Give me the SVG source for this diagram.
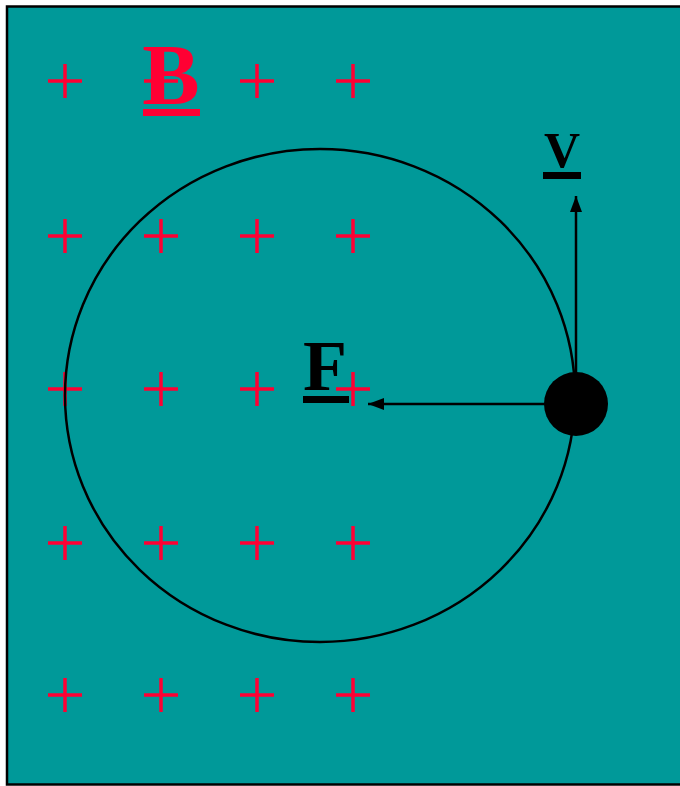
<svg xmlns="http://www.w3.org/2000/svg" width="680" height="786" viewBox="0 0 680 786">
<defs>
<style>
.pl{stroke:#FF0033;stroke-width:3.5;fill:none}
.lbl{font-family:"Liberation Serif","Times New Roman",serif;font-weight:bold}
.ln{stroke:#000;stroke-width:2.5;fill:none}
</style>
<marker id="ah2" markerWidth="16" markerHeight="12" refX="16" refY="6" orient="auto" markerUnits="userSpaceOnUse" viewBox="0 0 16 12">
<path d="M0,0 L16,6 L0,12 z" fill="#000"/>
</marker>
<path id="p" d="M-17,0 H17 M0,-17 V17"/>
</defs>
<rect x="7" y="6.5" width="680" height="778" fill="#009999" stroke="#000" stroke-width="2.5"/>
<g id="field">
<g class="pl">
<use href="#p" x="65" y="81"/><use href="#p" x="257" y="81"/><use href="#p" x="353" y="81"/><use href="#p" x="161" y="81"/>
<use href="#p" x="65" y="236"/><use href="#p" x="161" y="236"/><use href="#p" x="257" y="236"/><use href="#p" x="353" y="236"/>
<use href="#p" x="65" y="389"/><use href="#p" x="161" y="389"/><use href="#p" x="257" y="389"/><use href="#p" x="353" y="389"/>
<use href="#p" x="65" y="543"/><use href="#p" x="161" y="543"/><use href="#p" x="257" y="543"/><use href="#p" x="353" y="543"/>
<use href="#p" x="65" y="695"/><use href="#p" x="161" y="695"/><use href="#p" x="257" y="695"/><use href="#p" x="353" y="695"/>
</g>
</g>
<g id="label-B">
<text class="lbl" x="171" y="104" font-size="86" fill="#FF0033" text-anchor="middle">B</text>
<rect x="143" y="109" width="57" height="7" fill="#FF0033"/>
</g>
<g id="orbit">
<ellipse cx="320" cy="395.5" rx="255" ry="246.5" class="ln"/>
</g>
<g id="connectors">
<line x1="576" y1="404" x2="576" y2="196" class="ln" marker-end="url(#ah2)"/>
<line x1="545" y1="404" x2="368" y2="404" class="ln" marker-end="url(#ah2)"/>
</g>
<g id="particle">
<circle cx="576" cy="404" r="32" fill="#000"/>
</g>
<g id="label-F">
<text class="lbl" x="325" y="390" font-size="72" fill="#000" text-anchor="middle">F</text>
<rect x="303" y="396" width="46" height="7" fill="#000"/>
</g>
<g id="label-V">
<text class="lbl" x="562" y="167" font-size="50" fill="#000" text-anchor="middle">V</text>
<rect x="543" y="172" width="38" height="7" fill="#000"/>
</g>
</svg>
